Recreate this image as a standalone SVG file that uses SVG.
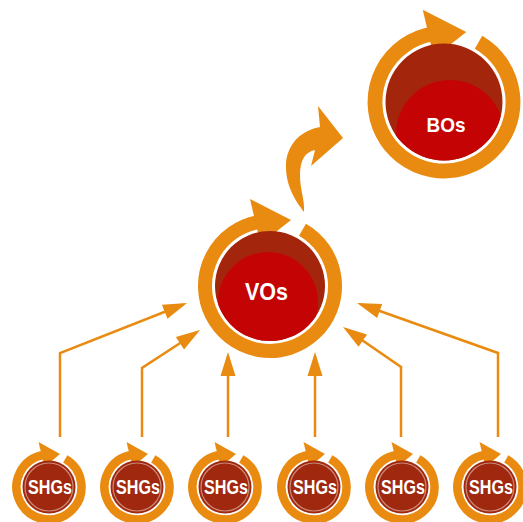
<svg xmlns="http://www.w3.org/2000/svg" xmlns:xlink="http://www.w3.org/1999/xlink" width="523" height="522" viewBox="0 0 523 522">
<style>
.ring{fill:none;stroke:#E98B10;stroke-width:14}
.ringS{fill:none;stroke:#E98B10;stroke-width:17}
.head{fill:#E98B10}
.lbl{fill:#fff;font-family:"Liberation Sans",Arial,sans-serif;font-weight:bold;text-anchor:middle}
.dark{fill:#A3260C}
.bright{fill:#C40404}
.shg{fill:#A0280E}
.hl{fill:none;stroke:#fff;stroke-opacity:0.45;stroke-width:1.2}
.conn{fill:none;stroke:#E98B10;stroke-width:2.5}
</style>
<defs>
<g id="cyc">
<path class="ring" d="M 32.5 -56.29 A 65 65 0 1 1 -11.29 -64.01"/>
<path class="head" d="M -20 -87 L 21 -66 L -9.5 -42 Z"/>
</g>
<g id="cycS">
<path class="ringS" d="M 32.5 -56.29 A 65 65 0 1 1 -11.29 -64.01"/>
<path class="head" d="M -21 -90 L 22 -66 L -9 -40 Z"/>
</g>
<marker id="ah" markerUnits="userSpaceOnUse" viewBox="-22 -8 28 16" markerWidth="28" markerHeight="16" refX="0" refY="0" orient="auto">
<path d="M4 0 L-20 -7.5 L-20 7.5 Z" fill="#E98B10"/>
</marker>
<clipPath id="cVO"><circle cx="270" cy="286" r="55"/></clipPath>
<clipPath id="cBO"><circle cx="444" cy="102" r="58.5"/></clipPath>
</defs>
<rect width="523" height="522" fill="#fff"/>
<g id="connectors">
<path class="conn" d="M 60 437 V 353 L 183.3 304.5" marker-end="url(#ah)"/>
<path class="conn" d="M 142 437 V 368 L 196.7 332.2" marker-end="url(#ah)"/>
<path class="conn" d="M 228 437 V 356" marker-end="url(#ah)"/>
<path class="conn" d="M 315 437 V 356" marker-end="url(#ah)"/>
<path class="conn" d="M 401 437 V 367 L 346.3 329.3" marker-end="url(#ah)"/>
<path class="conn" d="M 498 437 V 353 L 360.8 304.3" marker-end="url(#ah)"/>
<path class="head" d="M 304 212 C 295 200 285 185 286 163 C 288 142 303 130 320 127 L 318 106 L 343 138 L 311 166 L 315 150 C 305 152 300 160 300 175 C 300 190 305 200 304 212 Z"/>
</g>
<g id="BOs">
<use xlink:href="#cyc" transform="translate(444 102) scale(1.0615)"/>
<circle class="dark" cx="444" cy="102" r="58.5"/>
<circle class="bright" cx="450" cy="134" r="54" clip-path="url(#cBO)"/>
<text class="lbl" x="446" y="132" font-size="21" textLength="39" lengthAdjust="spacingAndGlyphs">BOs</text>
</g>
<g id="VOs">
<use xlink:href="#cyc" transform="translate(270 286)"/>
<circle class="dark" cx="270" cy="286" r="55"/>
<circle class="bright" cx="268" cy="302" r="50" clip-path="url(#cVO)"/>
<text class="lbl" x="266.5" y="300" font-size="24" textLength="43" lengthAdjust="spacingAndGlyphs">VOs</text>
</g>
<g id="SHG1">
<use xlink:href="#cycS" transform="translate(49 487) scale(0.5)"/>
<circle class="shg" cx="49" cy="487" r="26.5"/>
<circle class="hl" cx="49" cy="487" r="24"/>
<text class="lbl" x="50" y="493.5" font-size="19.5" textLength="44" lengthAdjust="spacingAndGlyphs">SHGs</text>
</g>
<g id="SHG2">
<use xlink:href="#cycS" transform="translate(137 487) scale(0.5)"/>
<circle class="shg" cx="137" cy="487" r="26.5"/>
<circle class="hl" cx="137" cy="487" r="24"/>
<text class="lbl" x="138" y="493.5" font-size="19.5" textLength="44" lengthAdjust="spacingAndGlyphs">SHGs</text>
</g>
<g id="SHG3">
<use xlink:href="#cycS" transform="translate(225 487) scale(0.5)"/>
<circle class="shg" cx="225" cy="487" r="26.5"/>
<circle class="hl" cx="225" cy="487" r="24"/>
<text class="lbl" x="226" y="493.5" font-size="19.5" textLength="44" lengthAdjust="spacingAndGlyphs">SHGs</text>
</g>
<g id="SHG4">
<use xlink:href="#cycS" transform="translate(314 487) scale(0.5)"/>
<circle class="shg" cx="314" cy="487" r="26.5"/>
<circle class="hl" cx="314" cy="487" r="24"/>
<text class="lbl" x="315" y="493.5" font-size="19.5" textLength="44" lengthAdjust="spacingAndGlyphs">SHGs</text>
</g>
<g id="SHG5">
<use xlink:href="#cycS" transform="translate(402 487) scale(0.5)"/>
<circle class="shg" cx="402" cy="487" r="26.5"/>
<circle class="hl" cx="402" cy="487" r="24"/>
<text class="lbl" x="403" y="493.5" font-size="19.5" textLength="44" lengthAdjust="spacingAndGlyphs">SHGs</text>
</g>
<g id="SHG6">
<use xlink:href="#cycS" transform="translate(490 487) scale(0.5)"/>
<circle class="shg" cx="490" cy="487" r="26.5"/>
<circle class="hl" cx="490" cy="487" r="24"/>
<text class="lbl" x="491" y="493.5" font-size="19.5" textLength="44" lengthAdjust="spacingAndGlyphs">SHGs</text>
</g>
</svg>
